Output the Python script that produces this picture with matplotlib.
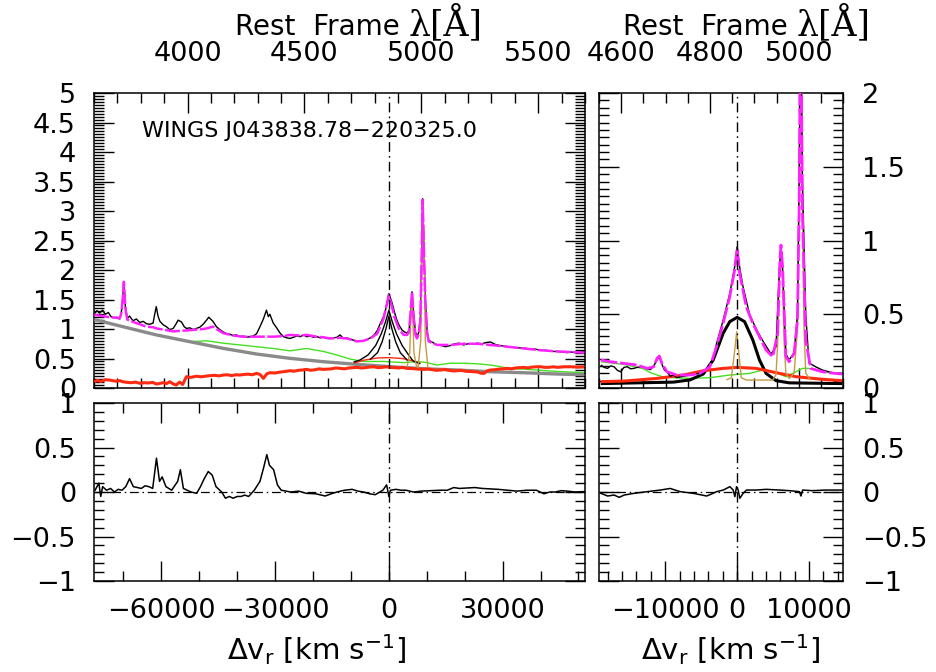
#!/usr/bin/env python3
# -*- coding: utf-8 -*-
"""Hbeta region fit of WINGS J043838.78-220325.0: spectrum, components, residuals."""

import matplotlib
matplotlib.use("Agg")
import matplotlib.pyplot as plt
import numpy as np
from matplotlib.ticker import FuncFormatter, MultipleLocator

C_KMS = 299792.458
LAM0 = 4861.33
LAM_MAIN = (3600.0, 5700.0)
LAM_ZOOM = (4550.0, 5100.0)
OBJ_NAME = "WINGS J043838.78\u2212220325.0"

# ---- data: (velocity km/s, flux) ----
OBS_TL = [
    (-77700, 1.26), (-77000, 1.31), (-76300, 1.27), (-75500, 1.32), (-74800, 1.25), (-74000, 1.28),
    (-73300, 1.21), (-72500, 1.19), (-71700, 1.20), (-71000, 1.17), (-70600, 1.26), (-70200, 1.52),
    (-69900, 1.80), (-69500, 1.38), (-69000, 1.18), (-68400, 1.22), (-67500, 1.14), (-66600, 1.17),
    (-65700, 1.11), (-64800, 1.13), (-64000, 1.09), (-63100, 1.08), (-62200, 1.10), (-61800, 1.24),
    (-61350, 1.38), (-60900, 1.22), (-60400, 1.13), (-59500, 1.07), (-58700, 1.04), (-57800, 0.99),
    (-56900, 1.01), (-56200, 1.08), (-55600, 1.15), (-54700, 1.12), (-54000, 1.04), (-53400, 1.01),
    (-52500, 1.02), (-51600, 0.99), (-50800, 1.01), (-49900, 1.03), (-49000, 1.08), (-48100, 1.15),
    (-47500, 1.20), (-47200, 1.18), (-46400, 1.13), (-45500, 1.04), (-44600, 0.99), (-43700, 0.95),
    (-42800, 0.92), (-41900, 0.91), (-41100, 0.89), (-40200, 0.90), (-39300, 0.87), (-38400, 0.88),
    (-37500, 0.86), (-36700, 0.87), (-35800, 0.88), (-34900, 0.92), (-34000, 1.04), (-33100, 1.17),
    (-32300, 1.32), (-31800, 1.21), (-31400, 1.25), (-30500, 1.10), (-29600, 1.02), (-28700, 0.93),
    (-27800, 0.87), (-26900, 0.85), (-26100, 0.84), (-25200, 0.86), (-24300, 0.88), (-23400, 0.87),
    (-22500, 0.90), (-21700, 0.87), (-20800, 0.88), (-19900, 0.86), (-19000, 0.87), (-18100, 0.85),
    (-17300, 0.86), (-16400, 0.84), (-15500, 0.84), (-14600, 0.85), (-13700, 0.86), (-12900, 0.90),
    (-12000, 0.84), (-11100, 0.85), (-10200, 0.83), (-9300, 0.81), (-8400, 0.79), (-7600, 0.80),
    (-6700, 0.80), (-5800, 0.82), (-4900, 0.85), (-4000, 0.89), (-3100, 0.97), (-2300, 1.09),
    (-1400, 1.21), (-900, 1.32), (0, 1.60), (800, 1.45), (1500, 1.28), (2100, 1.15), (2800, 1.05),
    (3500, 0.98), (4100, 0.95), (4800, 0.93), (5300, 0.98), (5700, 1.20), (6100, 1.63), (6500, 1.28),
    (7000, 0.95), (7400, 0.87), (7900, 0.95), (8300, 1.20), (8600, 2.10), (8900, 3.21), (9300, 2.20),
    (9600, 1.50), (10100, 0.95), (10500, 0.81), (11600, 0.77), (12700, 0.73), (13800, 0.72),
    (15000, 0.70), (16200, 0.72), (17400, 0.75), (18500, 0.76), (19700, 0.73), (20900, 0.75),
    (22100, 0.74), (23300, 0.76), (24500, 0.75), (25600, 0.77), (26800, 0.78), (28000, 0.74),
    (29200, 0.72), (30400, 0.71), (31600, 0.70), (32700, 0.69), (33900, 0.68), (35100, 0.68),
    (36300, 0.67), (37500, 0.66), (38600, 0.66), (39800, 0.64), (41000, 0.64), (42200, 0.63),
    (43400, 0.62), (44500, 0.62), (45700, 0.61), (46900, 0.60), (48100, 0.61), (49200, 0.60),
    (50400, 0.61), (51500, 0.62),
]
FIT_TL = [
    (-77700, 1.24), (-75500, 1.22), (-73700, 1.20), (-71700, 1.19), (-71000, 1.18), (-70600, 1.26),
    (-70200, 1.50), (-69900, 1.80), (-69500, 1.35), (-69000, 1.16), (-67500, 1.12), (-65700, 1.08),
    (-64000, 1.04), (-62200, 1.03), (-61350, 1.01), (-59500, 0.99), (-57800, 0.97), (-56900, 0.96),
    (-54700, 0.97), (-52500, 0.98), (-50800, 0.99), (-49000, 1.00), (-48100, 1.01), (-46400, 1.04),
    (-45500, 1.00), (-43700, 0.93), (-41100, 0.89), (-38400, 0.87), (-35800, 0.87), (-33100, 0.87),
    (-30500, 0.87), (-27800, 0.88), (-26100, 0.90), (-23400, 0.89), (-21700, 0.90), (-19000, 0.87),
    (-17300, 0.86), (-15500, 0.84), (-12900, 0.85), (-11100, 0.84), (-8400, 0.79), (-6700, 0.80),
    (-4900, 0.84), (-3100, 0.92), (-2300, 1.04), (-1400, 1.18), (-900, 1.32), (0, 1.58), (800, 1.38),
    (1500, 1.20), (2100, 1.09), (2800, 0.98), (3900, 0.90), (4800, 0.90), (5300, 0.95), (5700, 1.27),
    (6100, 1.63), (6500, 1.21), (7000, 0.90), (7400, 0.84), (7900, 0.92), (8300, 1.15), (8600, 2.05),
    (8900, 3.19), (9300, 2.15), (9600, 1.49), (10100, 0.92), (10500, 0.79), (12700, 0.73),
    (16200, 0.73), (19700, 0.75), (23300, 0.75), (26800, 0.73), (31200, 0.70), (35600, 0.67),
    (40000, 0.64), (44500, 0.62), (51500, 0.60),
]
POWERLAW_TL = [
    (-77700, 1.16), (-70200, 1.04), (-61350, 0.90), (-52500, 0.785), (-43700, 0.672), (-34900, 0.576),
    (-26100, 0.503), (-17300, 0.446), (-8400, 0.401), (400, 0.361), (9200, 0.327), (18000, 0.305),
    (26800, 0.276), (35600, 0.259), (44500, 0.237), (51500, 0.226),
]
FEII_TL = [
    (-52500, 0.785), (-48100, 0.80), (-43700, 0.76), (-39300, 0.73), (-34900, 0.70), (-30500, 0.67),
    (-26100, 0.63), (-21700, 0.67), (-17300, 0.62), (-13700, 0.56), (-10200, 0.49), (-6700, 0.45),
    (-1400, 0.45), (3900, 0.43), (7400, 0.45), (10100, 0.43), (12700, 0.39), (16200, 0.42),
    (19800, 0.42), (23300, 0.41), (26800, 0.39), (29500, 0.36), (32100, 0.33), (35600, 0.32),
    (44500, 0.28), (51500, 0.26),
]
HOST_TL = [
    (-77700, 0.107), (-76800, 0.13), (-76000, 0.11), (-74800, 0.14), (-73700, 0.135), (-72000, 0.115),
    (-71000, 0.125), (-70200, 0.107), (-69000, 0.095), (-68000, 0.09), (-66800, 0.10), (-65700, 0.079),
    (-64500, 0.09), (-63500, 0.085), (-62300, 0.095), (-61350, 0.067), (-60300, 0.08), (-59500, 0.09),
    (-58600, 0.075), (-57800, 0.107), (-56900, 0.07), (-56100, 0.05), (-55200, 0.10), (-54400, 0.06),
    (-53400, 0.192), (-52200, 0.18), (-50800, 0.20), (-49500, 0.19), (-48100, 0.203), (-47000, 0.21),
    (-45900, 0.215), (-44800, 0.205), (-43700, 0.22), (-42600, 0.225), (-41500, 0.21), (-40400, 0.225),
    (-39300, 0.22), (-38200, 0.23), (-37100, 0.235), (-36000, 0.225), (-34900, 0.248), (-34000, 0.23),
    (-33100, 0.163), (-32200, 0.24), (-31400, 0.259), (-30000, 0.255), (-28700, 0.27), (-27400, 0.28),
    (-26100, 0.293), (-25000, 0.285), (-23900, 0.30), (-22800, 0.305), (-21700, 0.316), (-20600, 0.30),
    (-19500, 0.31), (-18400, 0.325), (-17300, 0.316), (-16200, 0.32), (-15100, 0.325), (-14000, 0.34),
    (-12900, 0.333), (-11700, 0.325), (-10600, 0.34), (-9500, 0.345), (-8400, 0.350), (-7300, 0.34),
    (-6200, 0.345), (-5100, 0.355), (-4000, 0.361), (-2900, 0.345), (-1800, 0.35), (-700, 0.36),
    (400, 0.350), (1500, 0.345), (2600, 0.34), (3700, 0.35), (4800, 0.333), (5900, 0.33), (7000, 0.325),
    (8100, 0.32), (9200, 0.316), (10300, 0.325), (11400, 0.31), (12500, 0.30), (13600, 0.305),
    (14700, 0.315), (15800, 0.30), (16900, 0.29), (18000, 0.293), (19100, 0.30), (20200, 0.285),
    (21300, 0.28), (22400, 0.276), (23500, 0.27), (24300, 0.25), (25100, 0.248), (25900, 0.29),
    (26800, 0.305), (27900, 0.31), (29000, 0.32), (30100, 0.325), (31200, 0.333), (32300, 0.325),
    (33400, 0.34), (34500, 0.345), (35600, 0.350), (36700, 0.34), (37800, 0.355), (38900, 0.36),
    (40000, 0.361), (41100, 0.35), (42200, 0.35), (43300, 0.36), (44500, 0.350), (46200, 0.36),
    (48000, 0.36), (49700, 0.355), (51500, 0.361),
]
BROAD_RED_TL = [(-9300, 0.42), (-6700, 0.47), (-3000, 0.51), (0, 0.515), (3500, 0.50), (6500, 0.46), (8300, 0.42)]
BROAD_A_TL = [
    (-9300, 0.44), (-7600, 0.475), (-5500, 0.56), (-3500, 0.72), (-2000, 0.92), (-900, 1.12), (0, 1.32),
    (900, 1.12), (2000, 0.92), (3500, 0.72), (5300, 0.55), (6500, 0.45), (8300, 0.41),
]
BROAD_B_TL = [
    (-5000, 0.48), (-3000, 0.60), (-1800, 0.78), (-800, 1.00), (0, 1.22), (800, 1.00), (1800, 0.78),
    (3000, 0.60), (5000, 0.46),
]
NARROW_TL = [
    (4800, 0.36), (5500, 0.60), (5800, 1.20), (6050, 1.60), (6300, 1.20), (6600, 0.60), (7300, 0.36),
    (7700, 0.35), (8400, 0.80), (8700, 2.30), (9000, 3.15), (9300, 2.30), (9600, 0.80), (10300, 0.34),
]

OBS_TR = [
    (-18950, 0.156), (-18500, 0.14), (-18030, 0.133), (-17570, 0.15), (-17110, 0.144), (-16650, 0.12),
    (-16190, 0.110), (-15730, 0.14), (-15270, 0.144), (-14800, 0.13), (-14360, 0.133), (-13900, 0.14),
    (-13440, 0.144), (-12980, 0.14), (-12520, 0.13), (-12060, 0.125), (-11600, 0.15), (-11140, 0.19),
    (-10820, 0.21), (-10450, 0.16), (-10100, 0.12), (-9760, 0.11), (-9300, 0.08), (-8840, 0.088),
    (-8380, 0.07), (-7470, 0.08), (-6550, 0.088), (-5170, 0.10), (-4250, 0.13), (-3330, 0.20),
    (-2870, 0.30), (-1950, 0.46), (-1030, 0.64), (-350, 0.82), (0, 0.958), (340, 0.82), (800, 0.69),
    (1720, 0.50), (2640, 0.40), (3560, 0.32), (4710, 0.23), (5400, 0.28), (5860, 0.80), (6090, 0.969),
    (6310, 0.82), (6770, 0.23), (7230, 0.19), (7920, 0.24), (8380, 0.50), (8610, 1.41), (8840, 2.60),
    (9070, 1.41), (9530, 0.50), (9990, 0.17), (10910, 0.144), (11830, 0.122), (12740, 0.110),
    (13660, 0.099), (14580, 0.10),
]
FIT_TR = [
    (-18950, 0.19), (-17570, 0.178), (-15730, 0.167), (-13900, 0.156), (-12520, 0.133), (-11600, 0.144),
    (-11140, 0.201), (-10820, 0.217), (-10450, 0.167), (-9760, 0.110), (-8380, 0.088), (-6550, 0.088),
    (-5170, 0.099), (-3790, 0.144), (-2870, 0.28), (-1950, 0.438), (-1030, 0.619), (-350, 0.80),
    (0, 0.947), (340, 0.777), (1260, 0.551), (2180, 0.438), (3100, 0.348), (4020, 0.257), (4940, 0.212),
    (5630, 0.37), (5950, 0.868), (6090, 0.969), (6310, 0.822), (6770, 0.212), (7230, 0.178),
    (7920, 0.235), (8380, 0.461), (8610, 1.184), (8840, 2.75), (9070, 1.184), (9530, 0.325),
    (10220, 0.133), (11830, 0.110), (13660, 0.099), (14580, 0.095),
]
BROAD_BLACK_TR = [
    (-18950, 0.030), (-8840, 0.040), (-6550, 0.055), (-4710, 0.095), (-3330, 0.190), (-1950, 0.371),
    (-1030, 0.450), (0, 0.479), (1030, 0.450), (2180, 0.325), (3100, 0.190), (4020, 0.099),
    (5400, 0.050), (7230, 0.035), (14580, 0.030),
]
BROAD_RED_TR = [
    (-18950, 0.043), (-15730, 0.047), (-11140, 0.065), (-7470, 0.088), (-4710, 0.117), (-1950, 0.133),
    (0, 0.140), (2640, 0.133), (5400, 0.104), (8150, 0.077), (11830, 0.059), (14580, 0.050),
]
FEII_TR = [
    (-18950, 0.178), (-15730, 0.16), (-12980, 0.13), (-12060, 0.104), (-10450, 0.077), (-8840, 0.070),
    (-6550, 0.065), (-3790, 0.070), (-1030, 0.088), (1720, 0.099), (3560, 0.122), (5400, 0.104),
    (6770, 0.077), (8150, 0.11), (9070, 0.133), (9990, 0.133), (11830, 0.110), (14580, 0.095),
]
NARROW_TR = [
    (-1500, 0.054), (-800, 0.07), (-350, 0.25), (-70, 0.382), (205, 0.25), (570, 0.07), (1260, 0.054),
    (4940, 0.054), (5400, 0.09), (5630, 0.30), (5860, 0.75), (6090, 0.969), (6310, 0.75), (6540, 0.30),
    (6770, 0.10), (7230, 0.065), (7920, 0.10), (8380, 0.40), (8610, 1.30), (8840, 2.75), (9070, 1.30),
    (9300, 0.40), (9530, 0.10), (10220, 0.054),
]

RESID_BL = [
    (-77500, 0.02), (-76500, 0.10), (-76000, -0.05), (-75500, 0.06), (-74500, 0.02), (-73400, 0.04),
    (-72400, 0.00), (-71400, 0.03), (-70400, 0.02), (-69400, 0.06), (-68400, 0.15), (-67400, 0.06),
    (-66300, 0.05), (-65300, 0.04), (-64300, 0.07), (-63300, 0.06), (-62300, 0.04), (-61300, 0.38),
    (-60500, 0.12), (-59800, 0.17), (-58800, 0.06), (-57300, 0.02), (-55700, 0.12), (-55000, 0.25),
    (-54200, 0.04), (-53200, 0.02), (-52200, 0.00), (-50700, -0.015), (-49700, 0.06), (-48700, 0.15),
    (-47650, 0.23), (-46600, 0.19), (-45600, 0.06), (-44100, 0.00), (-43100, -0.07), (-42100, -0.05),
    (-41100, -0.07), (-40000, -0.05), (-39000, -0.05), (-38000, -0.035), (-37000, -0.05), (-35500, 0.02),
    (-34000, 0.12), (-33000, 0.28), (-32200, 0.42), (-31500, 0.30), (-30400, 0.25), (-29400, 0.08),
    (-28400, 0.02), (-27100, 0.01), (-25900, 0.00), (-23800, 0.01), (-21800, -0.015), (-19300, -0.02),
    (-16800, -0.045), (-15200, -0.02), (-13700, 0.00), (-11700, 0.02), (-9700, 0.03), (-8200, 0.01),
    (-6700, 0.00), (-5100, -0.02), (-3600, -0.03), (-1600, 0.02), (-600, 0.08), (0, -0.05), (400, 0.02),
    (1900, 0.03), (3200, 0.02), (4500, 0.02), (6500, 0.00), (8500, 0.01), (11000, 0.015), (13600, 0.02),
    (15400, 0.02), (17100, 0.05), (18600, 0.04), (20600, 0.045), (22700, 0.05), (24600, 0.04),
    (26700, 0.035), (28800, 0.03), (31300, 0.02), (33800, 0.01), (36300, 0.02), (38900, 0.02),
    (40900, -0.02), (42400, 0.00), (43900, 0.00), (45400, 0.015), (47000, 0.01), (49200, 0.00),
    (51500, 0.005),
]
RESID_BR = [
    (-18950, -0.015), (-18000, -0.045), (-17100, -0.034), (-16400, -0.06), (-15700, -0.034),
    (-14350, -0.015), (-12500, 0.004), (-10680, 0.022), (-9300, 0.04), (-8630, 0.022), (-7920, 0.004),
    (-6080, -0.015), (-4240, -0.045), (-3550, -0.022), (-2850, 0.004), (-1930, 0.022), (-1010, 0.06),
    (-550, 0.022), (-320, -0.052), (-90, 0.06), (140, 0.022), (370, -0.07), (830, -0.015), (1290, 0.022),
    (2670, 0.022), (4040, 0.03), (5880, 0.022), (7260, 0.015), (8640, 0.004), (8870, -0.045),
    (9100, 0.022), (10470, 0.015), (12310, 0.022), (14610, 0.022),
]

TICK_FS = 19.5
MAGENTA = "#ff22ff"
GOLD = "#c49a45"
GREEN = "#44e020"
RED = "#ff2a10"
GRAY = "#8a8a8a"
DASHDOT = (0, (7, 3, 1.2, 3))
FIG_W, FIG_H = 936, 672


def lam_to_v(lam):
    return (np.asarray(lam, dtype=float) / LAM0 - 1.0) * C_KMS


def xy(pairs):
    arr = np.asarray(pairs, dtype=float)
    return arr[:, 0], arr[:, 1]


def fmt_num(val, _pos):
    return f"{val:g}".replace("-", "\u2212")


def base_style(ax):
    for sp in ax.spines.values():
        sp.set_linewidth(1.1)
    ax.tick_params(which="both", direction="in", width=1.0, labelsize=TICK_FS,
                   top=True, bottom=True, left=True, right=True)
    ax.tick_params(which="major", length=14.4)
    ax.tick_params(which="minor", length=7.0)
    ax.yaxis.set_major_formatter(FuncFormatter(fmt_num))


def wave_ticks(ax, lam_lim, major, minor):
    lo, hi = lam_lim
    maj = np.arange(np.ceil(lo / major) * major, hi + 1, major)
    mnr = np.arange(np.ceil(lo / minor) * minor, hi + 1, minor)
    mnr = mnr[np.mod(mnr, major) != 0]
    ax.set_xticks(lam_to_v(maj))
    ax.set_xticklabels([f"{m:.0f}" for m in maj])
    ax.set_xticks(lam_to_v(mnr), minor=True)
    ax.set_xlim(lam_to_v(lam_lim))
    ax.tick_params(axis="x", labeltop=True, labelbottom=False, pad=19)


def vel_ticks(ax, lam_lim, major, minor):
    ax.set_xlim(lam_to_v(lam_lim))
    ax.xaxis.set_major_locator(MultipleLocator(major))
    ax.xaxis.set_minor_locator(MultipleLocator(minor))
    ax.xaxis.set_major_formatter(FuncFormatter(lambda v, _p: f"{v:.0f}".replace("-", "\u2212")))
    ax.tick_params(axis="x", labeltop=False, labelbottom=True, pad=12)


def draw_top(ax, layers):
    for pairs, color, lw, ls, z in layers:
        v, f = xy(pairs)
        ax.plot(v, f, color=color, lw=lw, ls=ls, zorder=z, solid_capstyle="butt")
    ax.axvline(0, color="black", lw=1.0, ls=DASHDOT, zorder=6)


def draw_resid(ax, pairs):
    v, r = xy(pairs)
    ax.axhline(0, color="black", lw=0.9, ls=DASHDOT, zorder=1)
    ax.axvline(0, color="black", lw=1.0, ls=DASHDOT, zorder=1)
    ax.plot(v, r, color="black", lw=1.1, zorder=3)
    ax.set_ylim(-1, 1)
    ax.yaxis.set_major_locator(MultipleLocator(0.5))
    ax.yaxis.set_minor_locator(MultipleLocator(0.1))


def wave_title(fig, x_px):
    # sans "Rest Frame" followed by a larger serif lambda[A], sharing one baseline
    y = 1 - 35 / FIG_H
    t1 = fig.text(x_px / FIG_W, y, "Rest  Frame", fontsize=20, ha="left", va="baseline")
    renderer = fig.canvas.get_renderer()
    x_end = t1.get_window_extent(renderer=renderer).x1
    fig.text((x_end + 9) / FIG_W, y, "\u03bb[\u00c5]", fontsize=25, family="DejaVu Serif",
             ha="left", va="baseline")


def main():
    fig = plt.figure(figsize=(FIG_W / 100, FIG_H / 100), dpi=100)
    ax_tl = fig.add_axes([0.1004, 0.4226, 0.5246, 0.4390])
    ax_tr = fig.add_axes([0.6400, 0.4226, 0.2607, 0.4390])
    ax_bl = fig.add_axes([0.1004, 0.1354, 0.5246, 0.2649])
    ax_br = fig.add_axes([0.6400, 0.1354, 0.2607, 0.2649])
    for ax in (ax_tl, ax_tr, ax_bl, ax_br):
        base_style(ax)

    magenta_ls = (0, (6, 1.0))
    draw_top(ax_tl, [
        (FEII_TL, GREEN, 1.0, "-", 2),
        (POWERLAW_TL, GRAY, 2.4, "-", 3),
        (HOST_TL, RED, 2.2, "-", 3),
        (OBS_TL, "black", 1.0, "-", 4),
        (BROAD_RED_TL, RED, 1.0, "-", 4),
        (BROAD_A_TL, "black", 1.0, "-", 4),
        (BROAD_B_TL, "black", 1.0, "-", 4),
        (NARROW_TL, GOLD, 1.0, "-", 4),
        (FIT_TL, MAGENTA, 1.8, magenta_ls, 5),
    ])
    ax_tl.set_ylim(0, 5)
    ax_tl.yaxis.set_major_locator(MultipleLocator(0.5))
    ax_tl.yaxis.set_minor_locator(MultipleLocator(0.05))
    ax_tl.tick_params(axis="y", labelleft=True, labelright=False, pad=13)
    wave_ticks(ax_tl, LAM_MAIN, 500, 100)
    ax_tl.text(0.097, 0.87, OBJ_NAME, transform=ax_tl.transAxes, fontsize=16, va="center", ha="left")

    draw_top(ax_tr, [
        (FEII_TR, GREEN, 1.0, "-", 2),
        (BROAD_BLACK_TR, "black", 2.2, "-", 3),
        (BROAD_RED_TR, RED, 2.2, "-", 3.5),
        (NARROW_TR, GOLD, 1.0, "-", 4),
        (OBS_TR, "black", 1.0, "-", 4),
        (FIT_TR, MAGENTA, 2.0, magenta_ls, 5),
    ])
    ax_tr.set_ylim(0, 2)
    ax_tr.yaxis.set_major_locator(MultipleLocator(0.5))
    ax_tr.yaxis.set_minor_locator(MultipleLocator(0.05))
    ax_tr.tick_params(axis="y", labelleft=False, labelright=True, pad=14)
    wave_ticks(ax_tr, LAM_ZOOM, 200, 50)

    draw_resid(ax_bl, RESID_BL)
    vel_ticks(ax_bl, LAM_MAIN, 30000, 10000)
    ax_bl.tick_params(axis="y", labelleft=True, labelright=False, pad=13)

    draw_resid(ax_br, RESID_BR)
    vel_ticks(ax_br, LAM_ZOOM, 10000, 2000)
    ax_br.tick_params(axis="y", labelleft=False, labelright=True, pad=14)

    wave_title(fig, 235)
    wave_title(fig, 623)
    xlabel = r"$\Delta$v$_{\rm r}$ [km s$^{-1}$]"
    fig.text(316 / FIG_W, 1 - 650 / FIG_H, xlabel, fontsize=21, ha="center", va="center")
    fig.text(730 / FIG_W, 1 - 650 / FIG_H, xlabel, fontsize=21, ha="center", va="center")

    fig.savefig("out.png", dpi=100)
    plt.close(fig)


if __name__ == "__main__":
    main()
